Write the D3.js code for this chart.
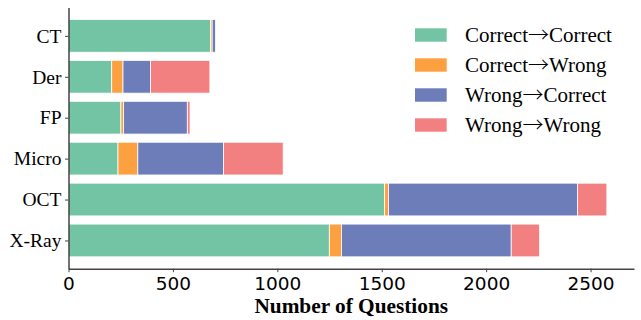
<!DOCTYPE html>
<html><head><meta charset="utf-8">
<script src="https://cdn.jsdelivr.net/npm/d3@7"></script>
<style>body{margin:0;background:#fff}svg{display:block}
.serif{font-family:"Liberation Serif","Times New Roman",serif}
.sans{font-family:"DejaVu Sans",sans-serif}
.arrow{font-family:"Noto Sans CJK JP","Noto Sans CJK SC",sans-serif;font-weight:300}
</style>
</head><body>
<script>
const categories = ["CT","Der","FP","Micro","OCT","X-Ray"];
const seriesNames = ["Correct→Correct","Correct→Wrong","Wrong→Correct","Wrong→Wrong"];
const correctCorrect = [680, 207, 251, 237, 1514, 1249];
const correctWrong   = [8, 54, 13, 95, 18, 58];
const wrongCorrect   = [16, 132, 305, 410, 905, 813];
const wrongWrong     = [0, 284, 13, 286, 141, 136];
const xTicks = [0, 500, 1000, 1500, 2000, 2500];
const colors = ["#73c4a5","#fda03f","#6c7db9","#f28080"];

(function(){
const W = 641, H = 320;
const mL = 68.5, mR = 634, mT = 7.6, mB = 268.7;
const svg = d3.select("body").append("svg").attr("width", W).attr("height", H);

const x = d3.scaleLinear().domain([0, 2708]).range([mL, mR]);
const y = d3.scaleLinear().domain([-0.69, 5.69]).range([mT, mB]);
const barH = 0.8;

const rows = categories.map((c, i) => ({cat: c, i, vals: [correctCorrect[i], correctWrong[i], wrongCorrect[i], wrongWrong[i]]}));
const stack = d3.stack().keys([0,1,2,3]).value((d, k) => d.vals[k])(rows);

stack.forEach((layer, k) => {
  svg.append("g").selectAll("rect").data(layer).join("rect")
    .attr("x", d => x(d[0]))
    .attr("width", d => Math.max(0, x(d[1]) - x(d[0])))
    .attr("y", d => y(d.data.i - barH/2))
    .attr("height", d => y(d.data.i + barH/2) - y(d.data.i - barH/2))
    .attr("fill", colors[k])
    .attr("stroke", "#fff").attr("stroke-width", 0.8)
    .attr("stroke-opacity", d => (d[1] - d[0]) > 0 ? 1 : 0);
});

const xAxis = svg.append("g").attr("transform", `translate(0,${mB})`)
  .call(d3.axisBottom(x).tickValues(xTicks).tickFormat(d3.format("d")).tickSize(3.5).tickPadding(5).tickSizeOuter(0));
xAxis.attr("font-family", null);
xAxis.select(".domain").attr("stroke", "#444").attr("stroke-width", 1.5);
xAxis.selectAll(".tick line").attr("stroke", "#444").attr("stroke-width", 1);
xAxis.selectAll("text").attr("class", "sans").attr("font-size", 18.5).attr("fill", "#000");

const yAxis = svg.append("g").attr("transform", `translate(${mL},0)`)
  .call(d3.axisLeft(y).tickValues(d3.range(categories.length)).tickFormat(i => categories[i]).tickSize(3.5).tickPadding(3.5).tickSizeOuter(0));
yAxis.attr("font-family", null);
yAxis.select(".domain").attr("stroke", "#444").attr("stroke-width", 1.5);
yAxis.selectAll(".tick line").attr("stroke", "#444").attr("stroke-width", 1);
yAxis.selectAll("text").attr("class", "serif").attr("font-size", 19.5).attr("fill", "#000");

svg.append("text").attr("class", "serif").attr("x", (mL + mR) / 2).attr("y", 312.5)
  .attr("text-anchor", "middle")
  .attr("font-weight", "bold").attr("font-size", 21.3).text("Number of Questions");

const lg = svg.append("g");
seriesNames.forEach((s, k) => {
  const cy = 35 + k * 30;
  lg.append("rect").attr("x", 415).attr("y", cy - 6.7).attr("width", 31.7).attr("height", 13.4).attr("fill", colors[k]);
  const parts = s.split("→");
  const t = lg.append("text").attr("class", "serif").attr("x", 465).attr("y", cy + 7.3)
    .attr("font-size", 21).attr("fill", "#000");
  t.append("tspan").text(parts[0]);
  t.append("tspan").attr("class", "arrow").text("→");
  t.append("tspan").text(parts[1]);
});
})();
</script>
</body></html>
